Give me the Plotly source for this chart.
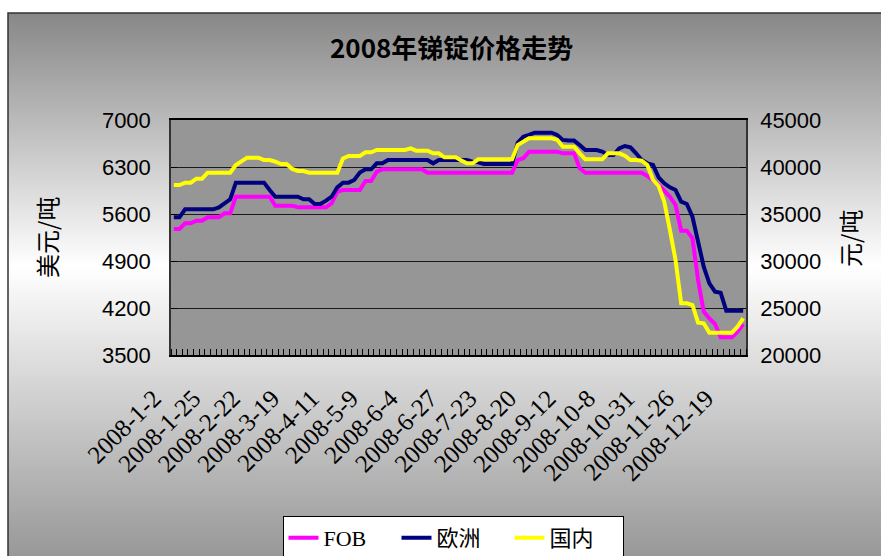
import plotly.graph_objects as go

# ---------------- data ----------------
tick_labels = ["2008-1-2", "2008-1-25", "2008-2-22", "2008-3-19", "2008-4-11",
               "2008-5-9", "2008-6-4", "2008-6-27", "2008-7-23", "2008-8-20",
               "2008-9-12", "2008-10-8", "2008-10-31", "2008-11-26", "2008-12-19"]
label_step = 7

fob = [5377, 5377, 5461, 5461, 5500, 5500, 5550, 5550, 5550, 5610,
       5610, 5858, 5858, 5858, 5858, 5858, 5858, 5858, 5724, 5724,
       5724, 5724, 5700, 5700, 5700, 5700, 5700, 5700, 5760, 5935,
       5957, 5957, 5957, 5957, 6092, 6092, 6230, 6265, 6265, 6265,
       6265, 6265, 6265, 6265, 6265, 6215, 6215, 6215, 6215, 6215,
       6215, 6215, 6215, 6215, 6215, 6215, 6215, 6215, 6215, 6215,
       6215, 6404, 6430, 6528, 6528, 6528, 6528, 6528, 6528, 6504,
       6504, 6504, 6280, 6215, 6215, 6215, 6215, 6215, 6215, 6215,
       6215, 6215, 6215, 6215, 6166, 6107, 6032, 5948, 5858, 5734,
       5352, 5352, 5238, 4617, 4145, 4046, 3962, 3763, 3763, 3763,
       3847, 3962]

europe = [5551, 5551, 5669, 5669, 5669, 5669, 5669, 5669, 5699, 5759,
          5819, 6067, 6067, 6067, 6067, 6067, 6067, 5957, 5858, 5858,
          5858, 5858, 5858, 5819, 5819, 5749, 5749, 5799, 5858, 5997,
          6067, 6067, 6107, 6216, 6265, 6265, 6355, 6355, 6404, 6404,
          6404, 6404, 6404, 6404, 6404, 6404, 6355, 6404, 6404, 6404,
          6404, 6404, 6404, 6380, 6370, 6345, 6345, 6345, 6345, 6345,
          6345, 6663, 6752, 6777, 6810, 6810, 6810, 6810, 6777, 6703,
          6693, 6693, 6628, 6553, 6553, 6553, 6529, 6479, 6479, 6578,
          6613, 6593, 6504, 6404, 6355, 6330, 6146, 6057, 5997, 5957,
          5783, 5749, 5560, 5213, 4816, 4567, 4443, 4428, 4160, 4160,
          4160, 4160]

domestic = [38085, 38085, 38333, 38333, 38759, 38759, 39397, 39397, 39397, 39397,
            39397, 40213, 40638, 40993, 40993, 40993, 40745, 40745, 40567, 40319,
            40319, 39787, 39574, 39574, 39397, 39397, 39397, 39397, 39397, 39397,
            40900, 41170, 41170, 41170, 41560, 41560, 41809, 41809, 41809, 41809,
            41809, 41809, 41986, 41738, 41738, 41738, 41454, 41454, 41028, 41028,
            41028, 40700, 40390, 40390, 40815, 40815, 40815, 40815, 40815, 40815,
            40815, 42340, 42700, 43050, 43050, 43050, 43050, 43050, 42900, 42163,
            42163, 42163, 41454, 40815, 40815, 40815, 40815, 41454, 41454, 41454,
            41200, 40745, 40745, 40670, 40213, 38617, 37979, 36312, 33297, 30106,
            25496, 25496, 25319, 23440, 23369, 22376, 22376, 22376, 22376, 22376,
            23014, 23901]

left_ticks = [3500, 4200, 4900, 5600, 6300, 7000]
right_ticks = [20000, 25000, 30000, 35000, 40000, 45000]

n = len(fob)
x_idx = list(range(n))
tickvals = list(range(0, n, label_step))[:len(tick_labels)]

# ---------------- geometry helpers (pixels -> paper) ----------------
W, H = 881, 556
L, R, T, B = 171, 135, 120, 201
PW, PH = W - L - R, H - T - B


def px(xp):
    return (xp - L) / PW


def py(yp):
    return (H - B - yp) / PH


# ---------------- figure ----------------
fig = go.Figure()
fig.add_trace(go.Scatter(x=x_idx, y=fob, name="FOB", mode="lines",
                         line=dict(color="#FF00FF", width=4)))
fig.add_trace(go.Scatter(x=x_idx, y=europe, name="欧洲", mode="lines",
                         line=dict(color="#000080", width=4)))
fig.add_trace(go.Scatter(x=x_idx, y=domestic, name="国内", mode="lines",
                         line=dict(color="#FFFF00", width=4), yaxis="y2"))

# background gradient bands (gray -> white -> gray)
shapes = []
top, peak, bottom = 13, 265, 560
c_top, c_bot = 136, 150
step = 3
yy = top
while yy < bottom:
    if yy < peak:
        c = c_top + (255 - c_top) * (yy - top) / (peak - top)
    else:
        c = 255 - (255 - c_bot) * (yy - peak) / (bottom - peak)
    c = int(round(c))
    col = f"rgb({c},{c},{c})"
    shapes.append(dict(type="rect", xref="paper", yref="paper", layer="below",
                       x0=px(8), x1=px(890), y0=py(yy), y1=py(min(yy + step, bottom) + 0.5),
                       fillcolor=col, line=dict(width=0)))
    yy += step
# plot area
shapes.append(dict(type="rect", xref="paper", yref="paper", layer="below",
                   x0=0, x1=1, y0=0, y1=1, fillcolor="#969696", line=dict(width=0)))
# outer chart border
shapes.append(dict(type="rect", xref="paper", yref="paper", layer="above",
                   x0=px(8), x1=px(895), y0=py(13), y1=py(570),
                   fillcolor="rgba(0,0,0,0)", line=dict(color="#333333", width=1.5)))

annotations = [
    dict(text="<b>2008年锑锭价格走势</b>", xref="paper", yref="paper",
         x=px(451), y=py(46), xanchor="center", yanchor="middle", showarrow=False,
         font=dict(family="Noto Sans CJK SC", size=26, color="#000000")),
    dict(text="美元/吨", xref="paper", yref="paper", x=px(46), y=py(238),
         xanchor="center", yanchor="middle", showarrow=False, textangle=-90,
         font=dict(family="Noto Sans CJK SC", size=24, color="#000000")),
    dict(text="元/吨", xref="paper", yref="paper", x=px(849), y=py(238),
         xanchor="center", yanchor="middle", showarrow=False, textangle=-90,
         font=dict(family="Noto Sans CJK SC", size=24, color="#000000")),
]

fig.update_layout(
    width=W, height=H, autosize=False,
    margin=dict(l=L, r=R, t=T, b=B, pad=0, autoexpand=False),
    paper_bgcolor="#FFFFFF", plot_bgcolor="#969696",
    shapes=shapes, annotations=annotations,
    showlegend=True,
    legend=dict(orientation="h", x=px(453), xanchor="center", y=py(516), yanchor="top",
                bgcolor="#FFFFFF", bordercolor="#000000", borderwidth=1,
                font=dict(family="Liberation Serif, Noto Sans CJK SC", size=22, color="#000000"),
                entrywidth=68, entrywidthmode="pixels", tracegroupgap=0),
    xaxis=dict(range=[-0.5, n - 0.5], tickmode="array", tickvals=tickvals, ticktext=tick_labels,
               tickangle=-45, ticks="", showgrid=False, zeroline=False, automargin=False,
               showline=True, linecolor="#000000", linewidth=1.5, mirror=True,
               tickfont=dict(family="Liberation Serif", size=25, color="#000000"),
               ticklabelstandoff=17, ticklabelshift=-20,
               minor=dict(tick0=-0.5, dtick=1, ticks="inside", ticklen=6,
                          tickcolor="#000000", tickwidth=1, showgrid=False)),
    yaxis=dict(range=[3500, 7000], tickmode="array", tickvals=left_ticks,
               ticktext=[str(v) for v in left_ticks], automargin=False,
               ticks="inside", ticklen=6, tickcolor="#000000",
               showgrid=True, gridcolor="#1a1a1a", gridwidth=1, zeroline=False,
               showline=True, linecolor="#333333", linewidth=1.5,
               tickfont=dict(family="Liberation Sans", size=22, color="#000000"),
               ticklabelstandoff=14),
    yaxis2=dict(range=[20000, 45000], tickmode="array", tickvals=right_ticks,
                ticktext=[str(v) for v in right_ticks], automargin=False,
                overlaying="y", side="right",
                ticks="inside", ticklen=6, tickcolor="#000000",
                showgrid=False, zeroline=False,
                showline=True, linecolor="#333333", linewidth=1.5,
                tickfont=dict(family="Liberation Sans", size=22, color="#000000"),
                ticklabelstandoff=8),
)

fig.write_html("out.html", config={"displayModeBar": False},
               post_script="document.body.style.margin='0px';")
